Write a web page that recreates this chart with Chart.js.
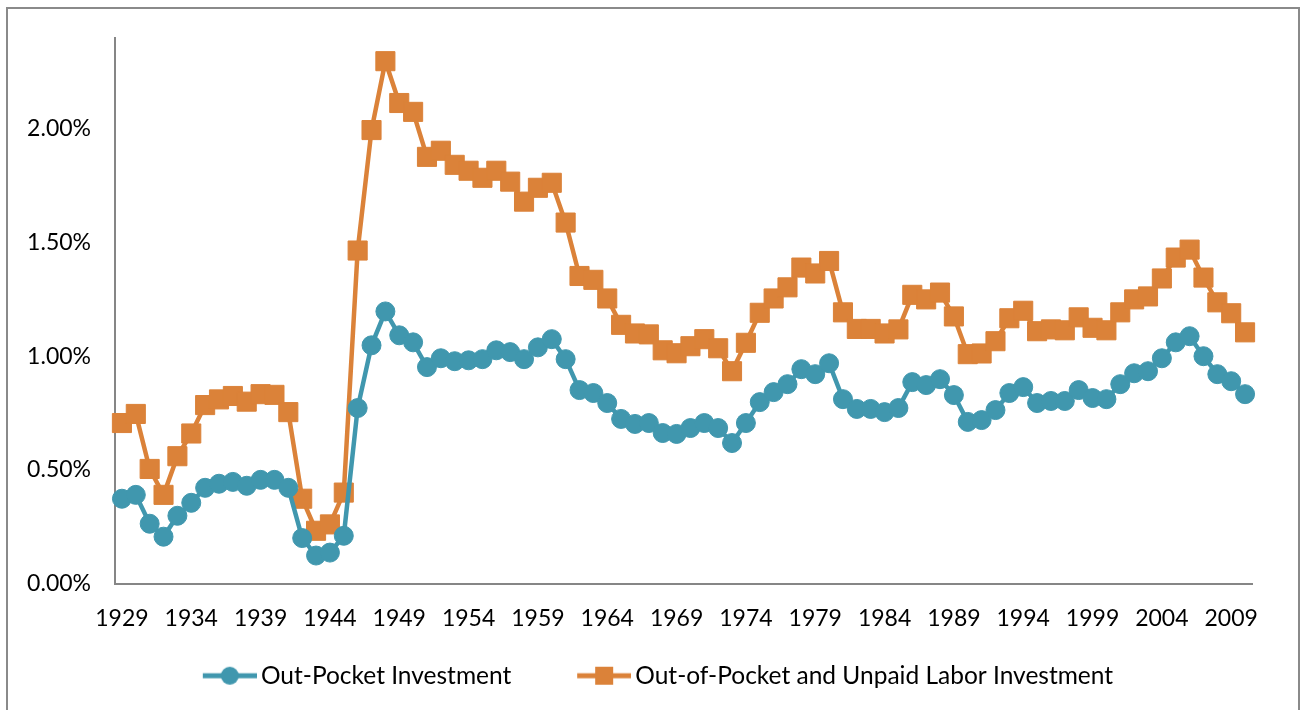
<!DOCTYPE html>
<html>
<head>
<meta charset="utf-8">
<script src="https://cdn.jsdelivr.net/npm/chart.js@4"></script>
<style>
  html, body { margin: 0; padding: 0; background: #fff; }
  #wrap { position: relative; width: 1302px; height: 710px; overflow: hidden; }
  #frame { position: absolute; left: 6px; top: 7px; width: 1294px; height: 720px; border: 2px solid #8a8a8a; box-sizing: border-box; }
  canvas { position: absolute; left: 0; top: 0; }
</style>
</head>
<body>
<div id="wrap">
  <div id="frame"></div>
  <canvas id="c" width="1302" height="710"></canvas>
</div>
<script>
const years = [];
for (let y = 1929; y <= 2010; y++) years.push(String(y));

const outPocket = [
  0.373, 0.39, 0.263, 0.206, 0.298, 0.355, 0.421, 0.439, 0.447, 0.43,
  0.456, 0.456, 0.421, 0.20, 0.123, 0.136, 0.21, 0.772, 1.048, 1.197,
  1.092, 1.061, 0.952, 0.991, 0.978, 0.982, 0.987, 1.026, 1.018, 0.987,
  1.039, 1.075, 0.987, 0.851, 0.838, 0.794, 0.724, 0.702, 0.706, 0.662,
  0.658, 0.684, 0.706, 0.684, 0.618, 0.706, 0.798, 0.842, 0.877, 0.943,
  0.921, 0.969, 0.811, 0.768, 0.768, 0.754, 0.772, 0.886, 0.873, 0.899,
  0.829, 0.711, 0.719, 0.763, 0.838, 0.864, 0.794, 0.803, 0.803, 0.851,
  0.816, 0.811, 0.877, 0.925, 0.934, 0.991, 1.061, 1.088, 1.00, 0.921,
  0.89, 0.833
];

const outPocketUnpaid = [
  0.706, 0.746, 0.504, 0.39, 0.56, 0.66, 0.785, 0.81, 0.825, 0.80,
  0.833, 0.83, 0.754, 0.373, 0.232, 0.26, 0.40, 1.465, 1.995, 2.298,
  2.114, 2.075, 1.877, 1.904, 1.842, 1.816, 1.785, 1.816, 1.768, 1.68,
  1.741, 1.763, 1.588, 1.353, 1.336, 1.254, 1.138, 1.10, 1.096, 1.026,
  1.013, 1.044, 1.075, 1.035, 0.934, 1.059, 1.191, 1.254, 1.303, 1.39,
  1.364, 1.419, 1.193, 1.12, 1.12, 1.10, 1.118, 1.27, 1.25, 1.28,
  1.175, 1.009, 1.012, 1.066, 1.167, 1.20, 1.11, 1.118, 1.114, 1.171,
  1.125, 1.114, 1.193, 1.25, 1.263, 1.342, 1.434, 1.469, 1.346, 1.237,
  1.189, 1.105
];

const seriesNames = ['Out-Pocket Investment', 'Out-of-Pocket and Unpaid Labor Investment'];
const yTicks = [0, 0.5, 1.0, 1.5, 2.0];

const BLUE = '#4097AE';
const ORANGE = '#DB8239';
const FONT = 'Lato, "Open Sans", sans-serif';
const FS = 23;     // tick font
const FSL = 24.5;  // legend font

// ---- legend geometry (styling only) ----
const LPAD = 25;
const BOXW = 124 - LPAD - FSL / 2;
const ICON_W = Math.round(BOXW + FSL - 8);
const CONTENT_W = 54;

function legendIcon(color, kind) {
  const cv = document.createElement('canvas');
  cv.width = ICON_W; cv.height = 22;
  const g = cv.getContext('2d');
  const x0 = ICON_W - CONTENT_W, cx = x0 + CONTENT_W / 2;
  g.strokeStyle = color; g.lineWidth = 5;
  g.beginPath(); g.moveTo(x0, 11); g.lineTo(ICON_W, 11); g.stroke();
  g.fillStyle = color;
  if (kind === 'circle') {
    g.beginPath(); g.arc(cx, 11, 9, 0, Math.PI * 2); g.fill();
  } else {
    g.fillRect(cx - 9, 2, 18, 18);
  }
  return cv;
}
const icons = [legendIcon(BLUE, 'circle'), legendIcon(ORANGE, 'rect')];

const mctx = document.createElement('canvas').getContext('2d');
mctx.font = FSL + 'px ' + FONT;
const w1 = BOXW + FSL / 2 + mctx.measureText(seriesNames[0]).width;
const w2 = BOXW + FSL / 2 + mctx.measureText(seriesNames[1]).width;
const itemX = 203 - (BOXW + FSL / 2 - 4 - CONTENT_W);
let PADL = Math.round(2 * itemX - 1252 + w1 + w2 + LPAD);
if (PADL < 0) PADL = 0;
if (PADL > 30) PADL = 30;

new Chart(document.getElementById('c'), {
  type: 'line',
  data: {
    labels: years,
    datasets: [
      {
        label: seriesNames[0],
        data: outPocket,
        borderColor: BLUE,
        backgroundColor: BLUE,
        borderWidth: 4.5,
        pointStyle: 'circle',
        pointRadius: 9.5,
        pointBorderWidth: 1,
        pointBorderColor: BLUE,
        pointBackgroundColor: BLUE,
        tension: 0,
        clip: false
      },
      {
        label: seriesNames[1],
        data: outPocketUnpaid,
        borderColor: ORANGE,
        backgroundColor: ORANGE,
        borderWidth: 4.5,
        pointStyle: 'rect',
        pointRadius: 13.5,
        pointBorderWidth: 1,
        pointBorderColor: ORANGE,
        pointBackgroundColor: ORANGE,
        tension: 0,
        clip: false
      }
    ]
  },
  options: {
    responsive: false,
    animation: false,
    events: [],
    layout: { padding: { left: PADL, right: 50, top: 38, bottom: 12 } },
    scales: {
      x: {
        type: 'category',
        offset: true,
        grid: { display: false, drawTicks: false },
        border: { display: true, color: '#868686', width: 2 },
        ticks: {
          autoSkip: false,
          maxRotation: 0,
          padding: 21,
          color: '#000',
          font: { family: FONT, size: FS },
          callback: function (v, i) {
            const lab = years[i];
            return ((+lab - 1929) % 5 === 0) ? lab : '';
          }
        },
        afterFit: function (s) { s.height = 55; }
      },
      y: {
        min: 0,
        max: 2.4,
        grid: { display: false, drawTicks: false },
        border: { display: true, color: '#868686', width: 2 },
        afterBuildTicks: function (s) { s.ticks = yTicks.map(v => ({ value: v })); },
        ticks: {
          padding: 24,
          color: '#000',
          font: { family: FONT, size: FS },
          callback: function (v) { return Number(v).toFixed(2) + '%'; }
        },
        afterFit: function (s) { s.width = 115 - PADL; }
      }
    },
    plugins: {
      tooltip: { enabled: false },
      legend: {
        display: true,
        position: 'bottom',
        labels: {
          usePointStyle: true,
          pointStyleWidth: BOXW,
          boxHeight: FSL,
          padding: LPAD,
          color: '#000',
          font: { family: FONT, size: FSL },
          generateLabels: function (chart) {
            const items = Chart.defaults.plugins.legend.labels.generateLabels(chart);
            items.forEach((it, i) => { it.pointStyle = icons[i]; });
            return items;
          }
        }
      }
    }
  }
});
</script>
</body>
</html>
